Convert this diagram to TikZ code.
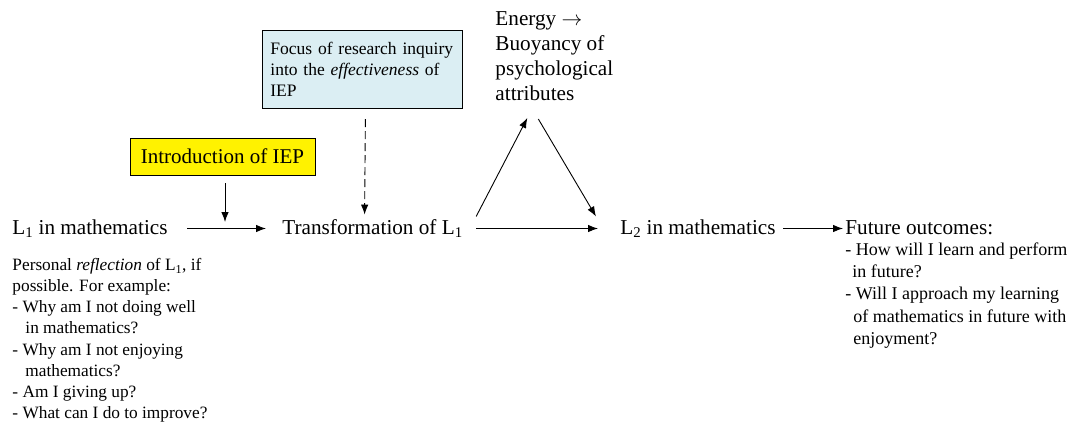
\documentclass[tikz,border=0pt]{standalone}
\usepackage{fontspec}
\setmainfont{Liberation Serif}
\usepackage{tikz}
\usetikzlibrary{arrows.meta,calc}
\definecolor{focusblue}{RGB}{219,238,243}

\begin{document}
\begin{tikzpicture}[x=1pt, y=-1pt, align=left, inner sep=0pt, line width=0.9pt,
        big/.style={font=\fontsize{21.2}{25}\selectfont, text height=15pt, text depth=4pt},
        arrow/.style={-{Latex[length=10pt,width=7.5pt]}}]
        \useasboundingbox (0,0) rectangle (1074,431);

        \node[big, anchor=base west](L1) at (12,234) {L\textsubscript{1} in mathematics};
        \node[big, anchor=base west](Transformation) at (282,234) {Transformation of L\textsubscript{1}};
        \node[big, anchor=base west](L2) at (620,234) {L\textsubscript{2} in mathematics};
        \node[big, anchor=base west](Future) at (845,234) {Future outcomes:};
        \node[anchor=north west, font=\fontsize{21.2}{25}\selectfont](Energy) at (495,11) {Energy $\rightarrow$\\Buoyancy of\\psychological\\attributes};

        \node[draw, line width=0.8pt, fill=yellow, minimum width=185pt, minimum height=37pt, font=\fontsize{21}{25}\selectfont](Introduction) at (222.5,156.5) {Introduction of IEP};
        \node[draw, line width=0.8pt, fill=focusblue, anchor=north west, text width=184pt, inner xsep=8pt, inner ysep=12pt, font=\fontsize{17.5}{21}\selectfont](Focus) at (262,30) {Focus of research inquiry\\into the \emph{effectiveness} of\\IEP};

        \node[anchor=north west, font=\fontsize{17.3}{21.1}\selectfont](Reflection) at (12,258) {Personal \emph{reflection} of L\textsubscript{1}, if\\possible. For example:\\- Why am I not doing well\\\hspace{13pt}in mathematics?\\- Why am I not enjoying\\\hspace{13pt}mathematics?\\- Am I giving up?\\- What can I do to improve?};
        \node[anchor=north west, font=\fontsize{18}{22.4}\selectfont](Questions) at (845,242) {- How will I learn and perform\\\hspace{7pt}in future?\\- Will I approach my learning\\\hspace{8pt}of mathematics in future with\\\hspace{8pt}enjoyment?};

        \coordinate (Merge) at (225,222);
        \draw[arrow] ($(L1.east)+(19,0)$) -- ($(Transformation.west)+(-16,0)$);
        \draw[arrow] ($(Introduction.south)+(2.5,8)$) -- (Merge);
        \draw[arrow, dash pattern=on 8pt off 4pt] ($(Focus.south)+(3,10)$) -- ($(Transformation.north)+(-8,-4)$);
        \draw[arrow] ($(Transformation.east)+(13,-12)$) -- ($(Energy.south)+(-27,17)$);
        \draw[arrow] ($(Energy.south)+(-16,18)$) -- ($(L2.west)+(-24,-12)$);
        \draw[arrow] ($(Transformation.east)+(13,0)$) -- ($(L2.west)+(-22,0)$);
        \draw[arrow] ($(L2.east)+(7,0)$) -- ($(Future.west)+(-2,0)$);
    \end{tikzpicture}
\end{document}
